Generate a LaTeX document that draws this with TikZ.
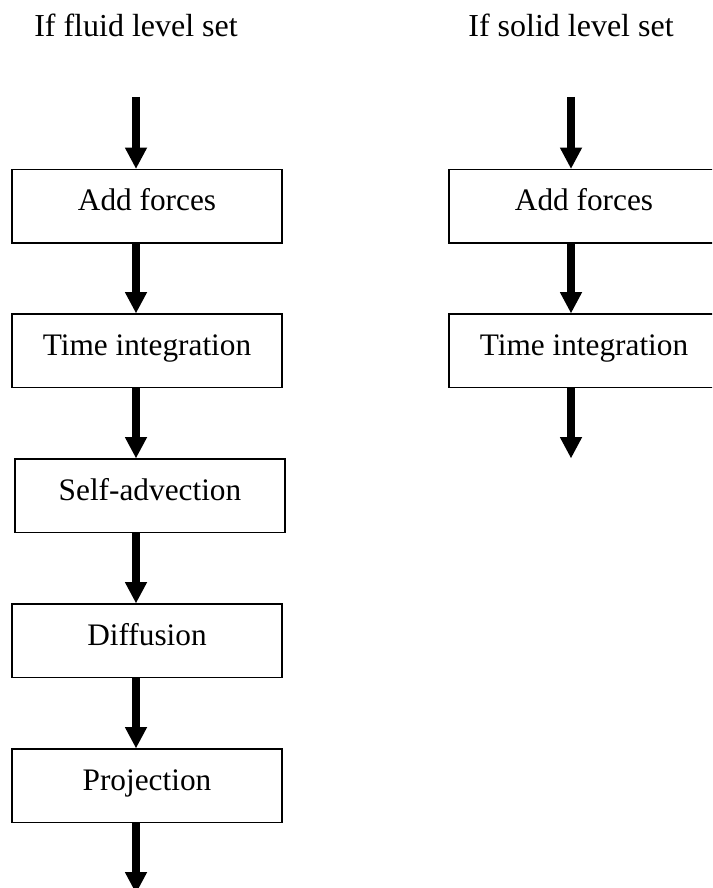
\documentclass[tikz,border=0pt]{standalone}
\usepackage{fontspec}
\setmainfont{Liberation Serif}
\usetikzlibrary{arrows.meta}

\tikzset{
  stepbox/.style={draw, line width=1.5pt, inner sep=0pt,
    minimum width=270pt, minimum height=73.5pt,
    text height=22pt, text depth=12.8pt,
    font=\fontsize{31.3}{36}\selectfont},
  heading/.style={anchor=base, inner sep=0pt, font=\fontsize{32}{38}\selectfont},
  flow/.style={line width=7.6pt,
    -{Triangle[width=22.5pt, length=21pt, line width=0pt]}},
}

\begin{document}
\begin{tikzpicture}[x=1pt, y=-1pt]
  \useasboundingbox (0,0) rectangle (712,888);
  \clip (0,0) rectangle (712,888);

  % column headings
  \node[heading] (hl) at (136,37) {If fluid level set};
  \node[heading] (hr) at (571,37) {If solid level set};

  % fluid branch
  \coordinate (lin)  at (136,97);
  \node[stepbox] (lf) at (147,206)   {Add forces};
  \node[stepbox] (lt) at (147,350.5) {Time integration};
  \node[stepbox] (ls) at (150,495.5) {Self-advection};
  \node[stepbox] (ld) at (147,640.5) {Diffusion};
  \node[stepbox] (lp) at (147,785.5) {Projection};
  \coordinate (lout) at (136,893);

  % solid branch
  \coordinate (rin)  at (571,97);
  \node[stepbox] (rf) at (584,206)   {Add forces};
  \node[stepbox] (rt) at (584,350.5) {Time integration};
  \coordinate (rout) at (571,458);

  % connectors, fluid branch
  \draw[flow] (lin) -- (lf.north -| lin);
  \draw[flow] (lf.south -| lin) -- (lt.north -| lin);
  \draw[flow] (lt.south -| lin) -- (ls.north -| lin);
  \draw[flow] (ls.south -| lin) -- (ld.north -| lin);
  \draw[flow] (ld.south -| lin) -- (lp.north -| lin);
  \draw[flow] (lp.south -| lin) -- (lout);

  % connectors, solid branch
  \draw[flow] (rin) -- (rf.north -| rin);
  \draw[flow] (rf.south -| rin) -- (rt.north -| rin);
  \draw[flow] (rt.south -| rin) -- (rout);
\end{tikzpicture}
\end{document}
